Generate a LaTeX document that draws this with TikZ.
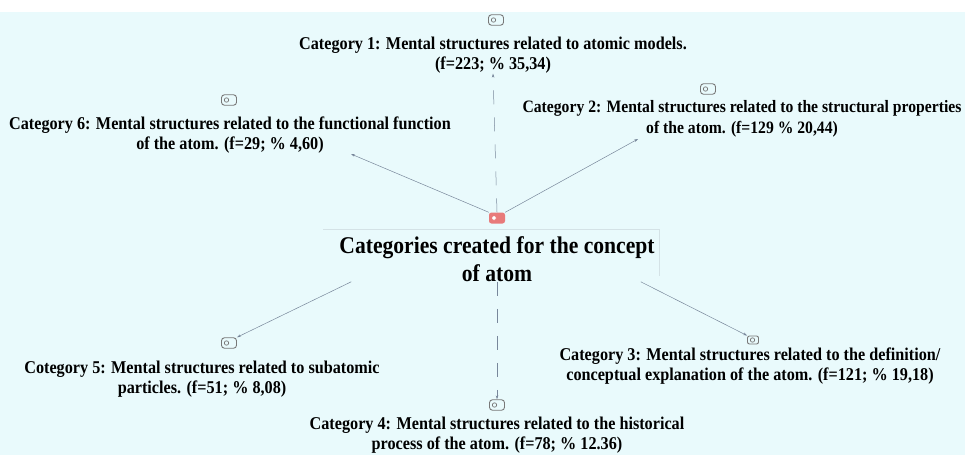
\documentclass[tikz,border=0pt]{standalone}
\usepackage{fontspec}
\setmainfont[FakeStretch=0.9]{Liberation Serif}
\usetikzlibrary{arrows.meta}
\definecolor{paper}{RGB}{233,250,252}
\definecolor{linkgray}{RGB}{120,135,155}
\definecolor{icongray}{RGB}{120,120,120}
\definecolor{hubred}{RGB}{232,122,122}
\definecolor{faint}{RGB}{212,226,230}
\tikzset{
  cattext/.style={align=center, inner sep=0pt, font=\bfseries\fontsize{18}{20.5}\selectfont},
  maintext/.style={align=center, inner sep=0pt, font=\bfseries\fontsize{24}{28}\selectfont},
  icon/.style={draw=icongray, line width=0.9pt, rounded corners=3pt, minimum width=15pt,
    minimum height=10.5pt, inner sep=0pt,
    path picture={\draw[icongray, line width=0.7pt] ([xshift=5pt]path picture bounding box.west) circle (2.2pt);}},
  smallicon/.style={icon, minimum width=11pt, minimum height=8pt, rounded corners=2pt},
  hubicon/.style={fill=hubred, rounded corners=2.5pt, minimum width=16pt, minimum height=11pt, inner sep=0pt,
    path picture={\fill[white] ([xshift=3pt,yshift=-2pt]path picture bounding box.west) rectangle ++(4pt,4pt);}},
  link/.style={linkgray, line width=0.5pt, -{Stealth[length=4pt,width=2.6pt]}},
  dashlink/.style={link, dash pattern=on 14pt off 13pt}
}
\begin{document}
\begin{tikzpicture}[x=1pt,y=-1pt]
    \useasboundingbox (0,0) rectangle (965,455);
    \fill[paper] (0,12) rectangle (965,455);

    \node[hubicon] (hub) at (497,218) {};
    \node[maintext] (main) at (497,259) {Categories created for the concept\\of atom};
    \draw[faint, line width=0.6pt] (323,229) -- (659,229) -- (659,276);

    \node[icon] (i1) at (496,20) {};
    \node[cattext] (c1) at (493,55) {Category 1: Mental structures related to atomic models.\\(f=223; \% 35,34)};
    \node[icon] (i6) at (229,100) {};
    \node[cattext] (c6) at (230,135) {Category 6: Mental structures related to the functional function\\of the atom. (f=29; \% 4,60)};
    \node[icon] (i2) at (708,89) {};
    \node[cattext, font=\bfseries\fontsize{17.4}{20.5}\selectfont] (c2) at (742,119) {Category 2: Mental structures related to the structural properties\\of the atom. (f=129 \% 20,44)};
    \node[icon] (i5) at (229,343) {};
    \node[cattext] (c5) at (202,379) {Cotegory 5: Mental structures related to subatomic\\particles. (f=51; \% 8,08)};
    \node[smallicon] (i3) at (753,340) {};
    \node[cattext] (c3) at (750,366) {Category 3: Mental structures related to the definition/\\conceptual explanation of the atom. (f=121; \% 19,18)};
    \node[icon] (i4) at (497,405) {};
    \node[cattext] (c4) at (497,435) {Category 4: Mental structures related to the historical\\process of the atom. (f=78; \% 12.36)};

    \coordinate (e2) at (638,139);
    \coordinate (e6) at (351,154);

    \draw[dashlink] (hub.north) -- (c1.south);
    \draw[link] (hub.north east) -- (e2);
    \draw[link] (hub.north west) -- (e6);
    \draw[link] ([xshift=12pt]main.south west) -- (i5.north east);
    \draw[link] ([xshift=-14pt]main.south east) -- (i3.north west);
    \draw[dashlink] (main.south) -- (i4.north);
\end{tikzpicture}
\end{document}
